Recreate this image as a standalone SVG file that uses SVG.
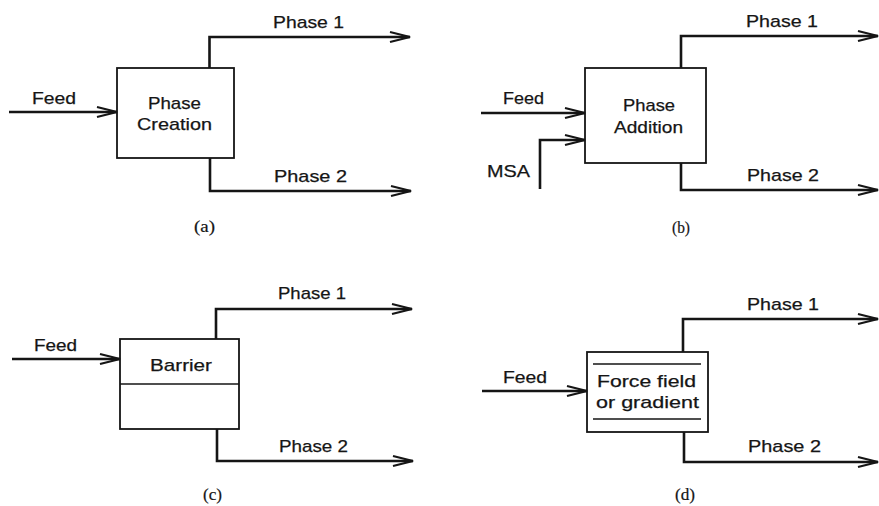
<svg xmlns="http://www.w3.org/2000/svg" width="879" height="506" viewBox="0 0 879 506">
  <style>
    .bg { fill: #ffffff; }
    .box { fill: none; stroke: #151515; stroke-width: 1.8; }
    .inner { stroke: #151515; stroke-width: 1.6; fill: none; }
    .flow { fill: none; stroke: #151515; stroke-width: 2.6; stroke-linejoin: miter; marker-end: url(#arrow); }
    .lbl { font-family: "Liberation Sans", Arial, sans-serif; font-size: 17px; fill: #151515; stroke: #151515; stroke-width: 0.25; }
    .cap { font-family: "Liberation Serif", "Times New Roman", serif; font-size: 16px; fill: #151515; stroke: #151515; stroke-width: 0.2; }
  </style>
  <defs>
    <marker id="arrow" markerUnits="userSpaceOnUse" markerWidth="24" markerHeight="14" viewBox="0 0 24 14" refX="22" refY="7" orient="auto">
      <path d="M2,2 L22,7 L2,12" fill="none" stroke="#151515" stroke-width="2.2" stroke-linejoin="miter"/>
    </marker>
  </defs>
  <rect class="bg" x="0" y="0" width="879" height="506"/>

  <!-- (a) phase creation -->
  <g id="node-a">
    <rect class="box" x="117" y="68" width="117" height="90"/>
    <text class="lbl" x="148" y="109" textLength="53" lengthAdjust="spacingAndGlyphs">Phase</text>
    <text class="lbl" x="137" y="130" textLength="75" lengthAdjust="spacingAndGlyphs">Creation</text>
    <text class="lbl" x="32" y="104" textLength="44" lengthAdjust="spacingAndGlyphs">Feed</text>
    <text class="lbl" x="273" y="28" textLength="71" lengthAdjust="spacingAndGlyphs">Phase 1</text>
    <text class="lbl" x="274" y="182" textLength="73" lengthAdjust="spacingAndGlyphs">Phase 2</text>
    <text class="cap" x="194" y="232" textLength="21" lengthAdjust="spacingAndGlyphs">(a)</text>
  </g>

  <!-- (b) phase addition -->
  <g id="node-b">
    <rect class="box" x="585" y="68" width="121" height="95"/>
    <text class="lbl" x="623" y="111" textLength="52" lengthAdjust="spacingAndGlyphs">Phase</text>
    <text class="lbl" x="614" y="133" textLength="69" lengthAdjust="spacingAndGlyphs">Addition</text>
    <text class="lbl" x="503" y="104" textLength="41" lengthAdjust="spacingAndGlyphs">Feed</text>
    <text class="lbl" x="487" y="177" textLength="43" lengthAdjust="spacingAndGlyphs">MSA</text>
    <text class="lbl" x="746" y="27" textLength="72" lengthAdjust="spacingAndGlyphs">Phase 1</text>
    <text class="lbl" x="747" y="181" textLength="72" lengthAdjust="spacingAndGlyphs">Phase 2</text>
    <text class="cap" x="672" y="233" textLength="18" lengthAdjust="spacingAndGlyphs">(b)</text>
  </g>

  <!-- (c) barrier -->
  <g id="node-c">
    <rect class="box" x="120" y="339" width="119" height="90"/>
    <line class="inner" x1="120" y1="384" x2="239" y2="384"/>
    <text class="lbl" x="150" y="371" textLength="62" lengthAdjust="spacingAndGlyphs">Barrier</text>
    <text class="lbl" x="34" y="351" textLength="43" lengthAdjust="spacingAndGlyphs">Feed</text>
    <text class="lbl" x="278" y="299" textLength="68" lengthAdjust="spacingAndGlyphs">Phase 1</text>
    <text class="lbl" x="279" y="452" textLength="69" lengthAdjust="spacingAndGlyphs">Phase 2</text>
    <text class="cap" x="203" y="500" textLength="19" lengthAdjust="spacingAndGlyphs">(c)</text>
  </g>

  <!-- (d) force field or gradient -->
  <g id="node-d">
    <rect class="box" x="587" y="352" width="121" height="80"/>
    <line class="inner" x1="593" y1="364" x2="701" y2="364"/>
    <line class="inner" x1="593" y1="419" x2="701" y2="419"/>
    <text class="lbl" x="597" y="387" textLength="99" lengthAdjust="spacingAndGlyphs">Force field</text>
    <text class="lbl" x="596" y="408" textLength="103" lengthAdjust="spacingAndGlyphs">or gradient</text>
    <text class="lbl" x="503" y="383" textLength="44" lengthAdjust="spacingAndGlyphs">Feed</text>
    <text class="lbl" x="747" y="310" textLength="72" lengthAdjust="spacingAndGlyphs">Phase 1</text>
    <text class="lbl" x="748" y="452" textLength="73" lengthAdjust="spacingAndGlyphs">Phase 2</text>
    <text class="cap" x="675" y="500" textLength="20" lengthAdjust="spacingAndGlyphs">(d)</text>
  </g>

  <!-- streams -->
  <g id="connectors">
    <path class="flow" d="M9,112 H117"/>
    <path class="flow" d="M209.5,68 V37 H410"/>
    <path class="flow" d="M210,158 V191 H411"/>

    <path class="flow" d="M481,113 H585"/>
    <path class="flow" d="M540,189 V140 H585"/>
    <path class="flow" d="M681,68 V36 H878"/>
    <path class="flow" d="M681,163 V190 H878"/>

    <path class="flow" d="M12,359 H120"/>
    <path class="flow" d="M216,339 V309 H412"/>
    <path class="flow" d="M217,429 V461 H413"/>

    <path class="flow" d="M482,391 H587"/>
    <path class="flow" d="M683,352 V319 H878"/>
    <path class="flow" d="M684,432 V462 H878"/>
  </g>
</svg>
